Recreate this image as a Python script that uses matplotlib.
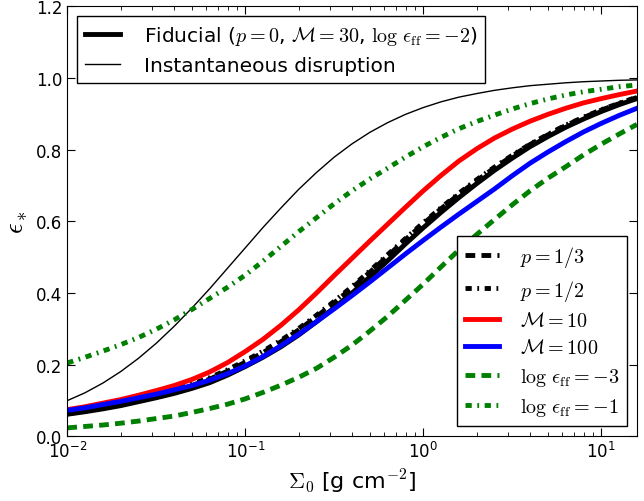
import numpy as np
import matplotlib
matplotlib.use("Agg")
import matplotlib.pyplot as plt

plt.rcParams['mathtext.fontset'] = 'cm'
plt.rcParams['font.family'] = ['DejaVu Sans']
plt.rcParams['font.size'] = 12
plt.rcParams['lines.scale_dashes'] = False

# log10 of surface density, sampled every 0.1 dex
logsig = [-2.0, -1.9, -1.8, -1.7, -1.6, -1.5, -1.4, -1.3, -1.2, -1.1, -1.0,
          -0.9, -0.8, -0.7, -0.6, -0.5, -0.4, -0.3, -0.2, -0.1, 0.0,
          0.1, 0.2, 0.3, 0.4, 0.5, 0.6, 0.7, 0.8, 0.9, 1.0, 1.1, 1.2]

eps_fid = [0.062, 0.069, 0.077, 0.086, 0.097, 0.108, 0.120, 0.134, 0.150, 0.171, 0.195,
           0.221, 0.250, 0.283, 0.320, 0.359, 0.400, 0.445, 0.490, 0.537, 0.582,
           0.625, 0.666, 0.705, 0.742, 0.776, 0.808, 0.836, 0.862, 0.885, 0.906, 0.925, 0.942]
eps_inst = [0.100, 0.122, 0.149, 0.181, 0.218, 0.260, 0.307, 0.358, 0.412, 0.469, 0.526,
            0.583, 0.637, 0.689, 0.736, 0.779, 0.816, 0.848, 0.875, 0.898, 0.917,
            0.933, 0.946, 0.956, 0.965, 0.972, 0.978, 0.982, 0.986, 0.989, 0.991, 0.993, 0.994]
eps_p13 = [0.063, 0.071, 0.080, 0.090, 0.102, 0.114, 0.127, 0.142, 0.160, 0.182, 0.207,
           0.234, 0.264, 0.297, 0.334, 0.373, 0.414, 0.458, 0.503, 0.549, 0.593,
           0.635, 0.675, 0.713, 0.749, 0.782, 0.814, 0.841, 0.867, 0.889, 0.910, 0.928, 0.945]
eps_p12 = [0.064, 0.072, 0.082, 0.093, 0.105, 0.117, 0.131, 0.146, 0.164, 0.186, 0.211,
           0.238, 0.268, 0.301, 0.338, 0.377, 0.418, 0.462, 0.507, 0.552, 0.596,
           0.638, 0.678, 0.716, 0.751, 0.784, 0.815, 0.842, 0.868, 0.890, 0.911, 0.929, 0.946]
eps_M10 = [0.075, 0.083, 0.093, 0.103, 0.115, 0.128, 0.142, 0.159, 0.180, 0.206, 0.237,
           0.271, 0.310, 0.353, 0.400, 0.449, 0.497, 0.545, 0.592, 0.639, 0.685,
           0.728, 0.768, 0.802, 0.832, 0.857, 0.879, 0.898, 0.915, 0.930, 0.942, 0.953, 0.963]
eps_M100 = [0.073, 0.080, 0.089, 0.098, 0.108, 0.118, 0.130, 0.142, 0.157, 0.175, 0.197,
            0.223, 0.253, 0.285, 0.320, 0.356, 0.393, 0.431, 0.470, 0.509, 0.547,
            0.584, 0.620, 0.655, 0.690, 0.727, 0.762, 0.793, 0.822, 0.849, 0.873, 0.895, 0.915]
eps_ff3 = [0.024, 0.028, 0.032, 0.037, 0.043, 0.050, 0.057, 0.067, 0.078, 0.090, 0.105,
           0.123, 0.143, 0.165, 0.190, 0.221, 0.255, 0.294, 0.335, 0.380, 0.425,
           0.473, 0.520, 0.563, 0.605, 0.646, 0.685, 0.720, 0.752, 0.785, 0.815, 0.843, 0.870]
eps_ff1 = [0.205, 0.221, 0.238, 0.256, 0.276, 0.299, 0.325, 0.354, 0.385, 0.416, 0.450,
           0.489, 0.530, 0.571, 0.610, 0.649, 0.685, 0.718, 0.748, 0.779, 0.808,
           0.834, 0.858, 0.878, 0.896, 0.913, 0.928, 0.941, 0.952, 0.961, 0.968, 0.975, 0.980]

sigma = 10.0 ** np.array(logsig)

fig = plt.figure(figsize=(6.44, 5.02), dpi=100)
ax = fig.add_axes([0.1045, 0.1285, 0.8845, 0.8575])

lw = 3.5
dash = (7, 4.5)
dashdot = (4.5, 4, 1.3, 4)
l_fid, = ax.plot(sigma, eps_fid, 'k-', lw=lw)
l_inst, = ax.plot(sigma, eps_inst, 'k-', lw=1)
l_p13, = ax.plot(sigma, eps_p13, 'k', lw=lw, dashes=dash)
l_p12, = ax.plot(sigma, eps_p12, 'k', lw=lw, dashes=dashdot)
l_M10, = ax.plot(sigma, eps_M10, 'r-', lw=lw)
l_M100, = ax.plot(sigma, eps_M100, 'b-', lw=lw)
l_ff3, = ax.plot(sigma, eps_ff3, color='g', lw=lw, dashes=dash)
l_ff1, = ax.plot(sigma, eps_ff1, color='g', lw=lw, dashes=dashdot)

ax.set_xscale('log')
ax.set_xlim(1e-2, 10 ** 1.2)
ax.set_ylim(0, 1.2)
ax.set_yticks(np.arange(0, 1.21, 0.2))
ax.tick_params(which='both', direction='in', top=True, right=True)
ax.tick_params(which='major', length=6)
ax.tick_params(which='minor', length=3)

ax.set_xlabel(r'$\Sigma_0$ [g cm$^{-2}$]', fontsize=16)
ax.set_ylabel(r'$\epsilon_*$', fontsize=19)

leg1 = ax.legend([l_fid, l_inst],
                 [r'Fiducial ($p=0$, $\mathcal{M}=30$, $\log\,\epsilon_{\rm ff}=-2$)',
                  'Instantaneous disruption'],
                 loc='upper left', fancybox=False, framealpha=1,
                 edgecolor='k', fontsize=14.5, handlelength=1.7,
                 handletextpad=1.2, labelspacing=0.45)
leg1.get_frame().set_linewidth(1)
ax.add_artist(leg1)

leg2 = ax.legend([l_p13, l_p12, l_M10, l_M100, l_ff3, l_ff1],
                 [r'$p=1/3$', r'$p=1/2$', r'$\mathcal{M}=10$',
                  r'$\mathcal{M}=100$', r'$\log\,\epsilon_{\rm ff}=-3$',
                  r'$\log\,\epsilon_{\rm ff}=-1$'],
                 loc='lower right', fancybox=False, framealpha=1,
                 edgecolor='k', fontsize=14.5, handlelength=1.7,
                 handletextpad=1.0, labelspacing=0.42)
leg2.get_frame().set_linewidth(1)

plt.savefig("out.png", dpi=100)
plt.close()
